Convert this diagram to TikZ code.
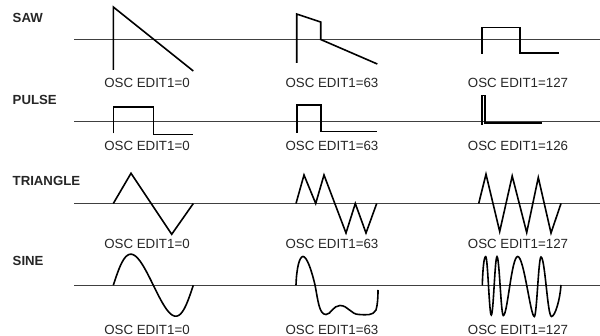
\documentclass[tikz,border=0pt]{standalone}
\usepackage{fontspec}
\setmainfont{Liberation Sans}
\begin{document}
\begin{tikzpicture}[x=1pt,y=-1pt,
  wave/.style={line width=1.6pt,black,line join=miter,line cap=butt},
  axisline/.style={line width=0.9pt,black!75},
  lbl/.style={anchor=base,inner sep=0pt,font=\fontsize{13.3}{14}\selectfont,text=black!85},
  head/.style={anchor=base west,inner sep=0pt,font=\fontsize{13.2}{14}\selectfont\bfseries,text=black!85}]
\useasboundingbox (0,0) rectangle (600,336);
\fill[white] (0,0) rectangle (600,336);

% headings
\node[head] (hsaw) at (12.5,22.7) {SAW};
\node[head] (hpulse) at (12.5,104.3) {PULSE};
\node[head] (htri) at (12.5,185.3) {TRIANGLE};
\node[head] (hsine) at (12.5,266) {SINE};

% axes
\draw[axisline] (74,39.5) -- (600,39.5);
\draw[axisline] (74,121.5) -- (600,121.5);
\draw[axisline] (74,203.5) -- (600,203.5);
\draw[axisline] (74,285.2) -- (600,285.2);

% SAW
\draw[wave] (113.3,70) -- (113.3,7) -- (193.3,71);
\draw[wave] (296.7,63) -- (296.7,14) -- (320.7,22) -- (320.7,39.5) -- (377.3,64);
\draw[wave] (481.7,54) -- (481.7,27.7) -- (520,27.7) -- (520,53) -- (559.3,53);
\node[lbl] (s1) at (147,87.3) {OSC EDIT1=0};
\node[lbl] (s2) at (332,87.3) {OSC EDIT1=63};
\node[lbl] (s3) at (518,87.3) {OSC EDIT1=127};

% PULSE
\draw[wave] (113.3,133.5) -- (113.3,107.3) -- (153.3,107.3) -- (153.3,134.5) -- (193.3,134.5);
\draw[wave] (296.7,133) -- (296.7,105) -- (320.7,105) -- (320.7,131.7) -- (377.3,131.7);
\draw[wave] (481.7,125) -- (481.7,95.7) -- (485,95.7) -- (485,123.3) -- (541.7,123.3);
\node[lbl] (p1) at (147,150.7) {OSC EDIT1=0};
\node[lbl] (p2) at (332,150.7) {OSC EDIT1=63};
\node[lbl] (p3) at (518,150.7) {OSC EDIT1=126};

% TRIANGLE
\draw[wave] (113.3,203.5) -- (131,173.3) -- (171.7,234.3) -- (193.3,203.5);
\draw[wave] (296,203.5) -- (304,175) -- (315.7,203.5) -- (324,175) -- (346,233) -- (355.3,203.5) -- (366,233) -- (376.7,203.5);
\draw[wave] (478.7,203.5) -- (486,174.2) -- (499.7,231.5) -- (512.2,176) -- (526.7,232.5) -- (538.3,177.5) -- (551,233) -- (561,203.5);
\node[lbl] (t1) at (147,248.7) {OSC EDIT1=0};
\node[lbl] (t2) at (332,248.7) {OSC EDIT1=63};
\node[lbl] (t3) at (518,248.7) {OSC EDIT1=127};

% SINE
\draw[wave] plot[domain=0:360,samples=90,smooth] ({113.3+\x/360*80-2.5*sin(\x)},{285.2-31*sin(\x)});
\draw[wave] (296,285.2) .. controls (296.5,268) and (299.5,256.5) .. (303,256.5)
  .. controls (306.5,256.5) and (311,268) .. (315,285)
  .. controls (318,300) and (319,314.5) .. (326,314.5)
  .. controls (331,314.5) and (333,305.5) .. (340,305.5)
  .. controls (348,305.5) and (351,314.5) .. (359,314.5)
  .. controls (366,314.8) and (373,316) .. (376,310)
  .. controls (377.5,305) and (378,298) .. (378,290);
\draw[wave] (482.3,285.5) .. controls (482.8,268) and (484,256.7) .. (485.7,256.7)
  .. controls (487.8,256.7) and (489.2,315) .. (491.3,315)
  .. controls (493.4,315) and (494.9,256.7) .. (497,256.7)
  .. controls (499.3,256.7) and (501,315.5) .. (503.3,315.5)
  .. controls (507.5,315.5) and (511.5,256.5) .. (517.7,256.5)
  .. controls (524,256.5) and (530.5,316.5) .. (534.3,316.5)
  .. controls (536.8,316.5) and (538.5,257) .. (541,257)
  .. controls (545,257) and (547.5,316.5) .. (551.5,316.5)
  .. controls (555,316.5) and (560,300) .. (561,285);
\node[lbl] (n1) at (147,334.3) {OSC EDIT1=0};
\node[lbl] (n2) at (332,334.3) {OSC EDIT1=63};
\node[lbl] (n3) at (518,334.3) {OSC EDIT1=127};
\end{tikzpicture}
\end{document}
